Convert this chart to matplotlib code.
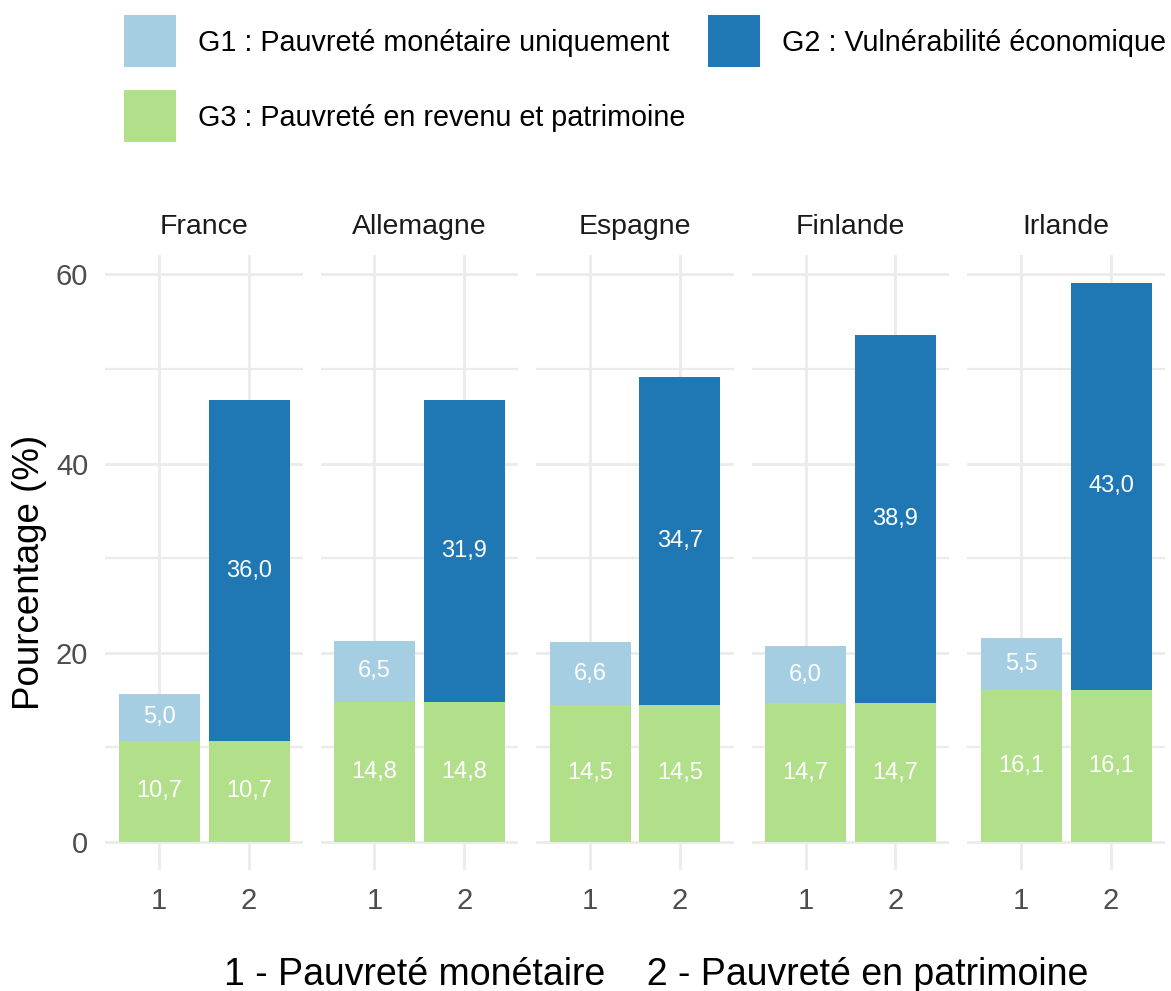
import matplotlib
matplotlib.use("Agg")
import matplotlib.pyplot as plt
from matplotlib.patches import Rectangle

plt.rcParams['font.family'] = ['Liberation Sans', 'DejaVu Sans']

# ---- data ----
countries = ["France", "Allemagne", "Espagne", "Finlande", "Irlande"]
x_labels = ["1", "2"]
g3_values = [10.7, 14.8, 14.5, 14.7, 16.1]   # G3 : both bars
g1_values = [5.0, 6.5, 6.6, 6.0, 5.5]        # G1 : bar 1
g2_values = [36.0, 31.9, 34.7, 38.9, 43.0]   # G2 : bar 2
legend_labels = ["G1 : Pauvreté monétaire uniquement",
                 "G2 : Vulnérabilité économique",
                 "G3 : Pauvreté en revenu et patrimoine"]
y_ticks = [0, 20, 40, 60]
y_title = "Pourcentage (%)"
x_title = "1 - Pauvreté monétaire    2 - Pauvreté en patrimoine"

# ---- style ----
C_G1 = "#a6cee3"
C_G2 = "#1f78b4"
C_G3 = "#b2df8a"
GRID = "#ebebeb"
W, H = 1171, 991

fig = plt.figure(figsize=(W / 100, H / 100), dpi=100)

ymax = max(g + v for g, v in zip(g3_values, g2_values))
ymax = max(ymax, max(g + v for g, v in zip(g3_values, g1_values)))
pad = 0.05 * ymax
ylo, yhi = -pad, ymax + pad

panel_left0 = 105
panel_w = 198
panel_step = 215.5
panel_top = 255
panel_bot = 870

def fx(px):
    return px / W

def fy(py):
    return 1 - py / H

def fmt(v):
    return f"{v:.1f}".replace(".", ",")

LBL = 17

for i, c in enumerate(countries):
    left = panel_left0 + i * panel_step
    ax = fig.add_axes([fx(left), fy(panel_bot), panel_w / W, (panel_bot - panel_top) / H])
    ax.set_xlim(0.4, 2.6)
    ax.set_ylim(ylo, yhi)
    for s in ax.spines.values():
        s.set_visible(False)
    # grid
    for yv in y_ticks:
        ax.axhline(yv, color=GRID, lw=2.0, zorder=0)
    for yv in [10, 30, 50]:
        ax.axhline(yv, color=GRID, lw=1.6, zorder=0)
    for xv in [1, 2]:
        ax.axvline(xv, color=GRID, lw=2.0, zorder=0)
    xs = [1, 2]
    ax.bar(xs, [g3_values[i], g3_values[i]], width=0.9, color=C_G3, zorder=2)
    ax.bar([1], [g1_values[i]], bottom=[g3_values[i]], width=0.9, color=C_G1, zorder=2)
    ax.bar([2], [g2_values[i]], bottom=[g3_values[i]], width=0.9, color=C_G2, zorder=2)
    # labels
    for xv in xs:
        ax.text(xv, g3_values[i] / 2, fmt(g3_values[i]), ha="center", va="center",
                color="white", fontsize=LBL, zorder=3)
    ax.text(1, g3_values[i] + g1_values[i] / 2, fmt(g1_values[i]), ha="center", va="center",
            color="white", fontsize=LBL, zorder=3)
    ax.text(2, g3_values[i] + g2_values[i] / 2, fmt(g2_values[i]), ha="center", va="center",
            color="white", fontsize=LBL, zorder=3)
    ax.set_xticks(xs)
    ax.set_xticklabels(x_labels)
    ax.set_yticks(y_ticks)
    ax.tick_params(length=0, labelsize=21, labelcolor="#4d4d4d", pad=12)
    if i > 0:
        ax.set_yticklabels([])
    else:
        ax.set_yticklabels([str(t) for t in y_ticks])
    ax.set_title(c, fontsize=20.5, color="#1a1a1a", pad=15)

# overlay for titles and legend (pixel coords)
ov = fig.add_axes([0, 0, 1, 1], zorder=-1)
ov.set_xlim(0, W)
ov.set_ylim(H, 0)
ov.axis("off")

ov.text(30, (panel_top + panel_bot) / 2 + 10, y_title, rotation=90, ha="center", va="center",
        fontsize=26.5, color="black")
ov.text(656, 975, x_title, ha="center", va="center", fontsize=27, color="black")

legend_items = [(124, 15, C_G1, legend_labels[0]),
                (708, 15, C_G2, legend_labels[1]),
                (124, 90, C_G3, legend_labels[2])]
for (lx, ly, col, lab) in legend_items:
    ov.add_patch(Rectangle((lx, ly), 52, 52, facecolor=col, edgecolor="none"))
    ov.text(lx + 74, ly + 28, lab, ha="left", va="center", fontsize=20.7, color="black")

fig.savefig("out.png", dpi=100, facecolor="white")
